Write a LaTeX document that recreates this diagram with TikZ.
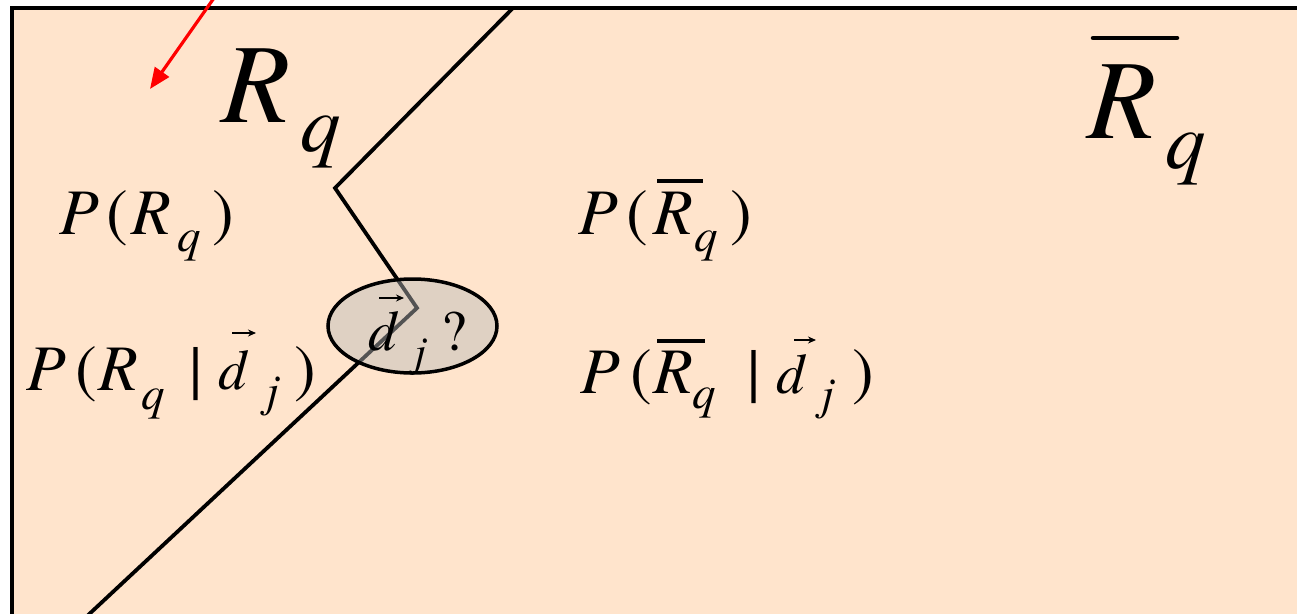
\documentclass[tikz,border=0pt]{standalone}
\usepackage{fontspec}
\IfFontExistsTF{texgyretermes-regular.otf}{%
  \setmainfont{texgyretermes}[Extension=.otf, UprightFont=*-regular, ItalicFont=*-italic, BoldFont=*-bold, BoldItalicFont=*-bolditalic]%
}{%
  \setmainfont{Liberation Serif}[ItalicFont={Liberation Serif Italic}]%
}
\usetikzlibrary{arrows.meta,shapes.geometric}
\definecolor{peach}{RGB}{255,228,204}
\definecolor{ellgray}{gray}{0.73}
\newcommand{\fs}[1]{\fontsize{#1}{#1}\selectfont}
\tikzset{
  g/.style={inner sep=0pt, outer sep=0pt, anchor=base west},
  it64/.style={g, font=\fs{65}\itshape},
  rm64/.style={g, font=\fs{65}},
  it46/.style={g, font=\fs{47}\itshape},
  itj/.style={g, font=\fs{46}\itshape},
  itjs/.style={g, font=\fs{43}\itshape},
  it56/.style={g, font=\fs{57}\itshape},
  rm56/.style={g, font=\fs{57}},
  big/.style={g, font=\fs{113}\itshape},
  bigsub/.style={g, font=\fs{81}\itshape},
  bar/.style={line width=3.5pt},
  vecarrow/.style={line width=1.8pt, -{Stealth[length=8pt,width=7pt]}},
  zig/.style={line width=3.8pt, line join=miter},
}
\begin{document}
\begin{tikzpicture}[x=1pt,y=-1pt]
\useasboundingbox (0,0) rectangle (1297,613);
\clip (0,0) rectangle (1297,613);
% background panel
\draw[line width=3.8pt, fill=peach] (12,8) rectangle (1320,640);
% zigzag boundary
\coordinate (z0) at (513,8);
\coordinate (z1) at (335,188);
\coordinate (z2) at (417,308);
\coordinate (z3) at (85,618);
\draw[zig] (z0) -- (z1) -- (z2) -- (z3);
% red arrow
\coordinate (ra) at (214,-2);
\coordinate (rb) at (150,89);
\draw[red, line width=3.2pt, -{Triangle[length=21pt,width=17pt]}] (ra) -- (rb);
% ellipse
\node[ellipse, draw, line width=3.5pt, fill=ellgray, fill opacity=0.45, minimum width=169pt, minimum height=94pt, inner sep=0pt] (ell) at (412.5,326) {};
% ellipse content
\node[it56] (ed) at (368,350) {d};
\node[itjs] (ej) at (414,366) {j};
\node[rm56] (eq) at (441,350) {?};
\coordinate (ea1) at (379,298); \coordinate (ea2) at (404,298);
\draw[vecarrow] (ea1) -- (ea2);
% big R_q
\node[big] (bR) at (221,122) {R};
\node[bigsub] (bq) at (300,151) {q};
% big Rbar_q
\node[big] (cR) at (1087,138) {R};
\node[bigsub] (cq) at (1165,168) {q};
\coordinate (cb1) at (1093,38); \coordinate (cb2) at (1177,38);
\draw[line width=4.5pt, line cap=round] (cb1) -- (cb2);
% P(R_q)
\node[it64] (p1P) at (59,234) {P};
\node[rm64] (p1o) at (106,234) {(};
\node[it64] (p1R) at (131,234) {R};
\node[it46] (p1q) at (177,251) {q};
\node[rm64] (p1c) at (212,234) {)};
% P(R_q | d_j)
\node[it64] (p2P) at (27,390) {P};
\node[rm64] (p2o) at (75,390) {(};
\node[it64] (p2R) at (98,390) {R};
\node[it46] (p2q) at (141,409) {q};
\node[rm64] (p2b) at (189,390) {|};
\node[it56] (p2d) at (218,389) {d};
\node[itj] (p2j) at (266,406) {j};
\node[rm64] (p2c) at (294,390) {)};
\coordinate (p2a1) at (232,333); \coordinate (p2a2) at (256,333);
\draw[vecarrow] (p2a1) -- (p2a2);
% P(Rbar_q)
\node[it64] (p3P) at (578,234) {P};
\node[rm64] (p3o) at (626,234) {(};
\node[it64] (p3R) at (653,234) {R};
\node[it46] (p3q) at (694,251) {q};
\node[rm64] (p3c) at (730,234) {)};
\coordinate (p3b1) at (657,181); \coordinate (p3b2) at (703,181);
\draw[bar] (p3b1) -- (p3b2);
% P(Rbar_q | d_j)
\node[it64] (p4P) at (580,393) {P};
\node[rm64] (p4o) at (630,393) {(};
\node[it64] (p4R) at (653,393) {R};
\node[it46] (p4q) at (692,408) {q};
\node[rm64] (p4b) at (747,393) {|};
\node[it56] (p4d) at (776,393) {d};
\node[itj] (p4j) at (821,409) {j};
\node[rm64] (p4c) at (852,393) {)};
\coordinate (p4a1) at (794,340); \coordinate (p4a2) at (816,340);
\draw[vecarrow] (p4a1) -- (p4a2);
\coordinate (p4b1) at (657,341); \coordinate (p4b2) at (705,341);
\draw[bar] (p4b1) -- (p4b2);
\end{tikzpicture}
\end{document}
